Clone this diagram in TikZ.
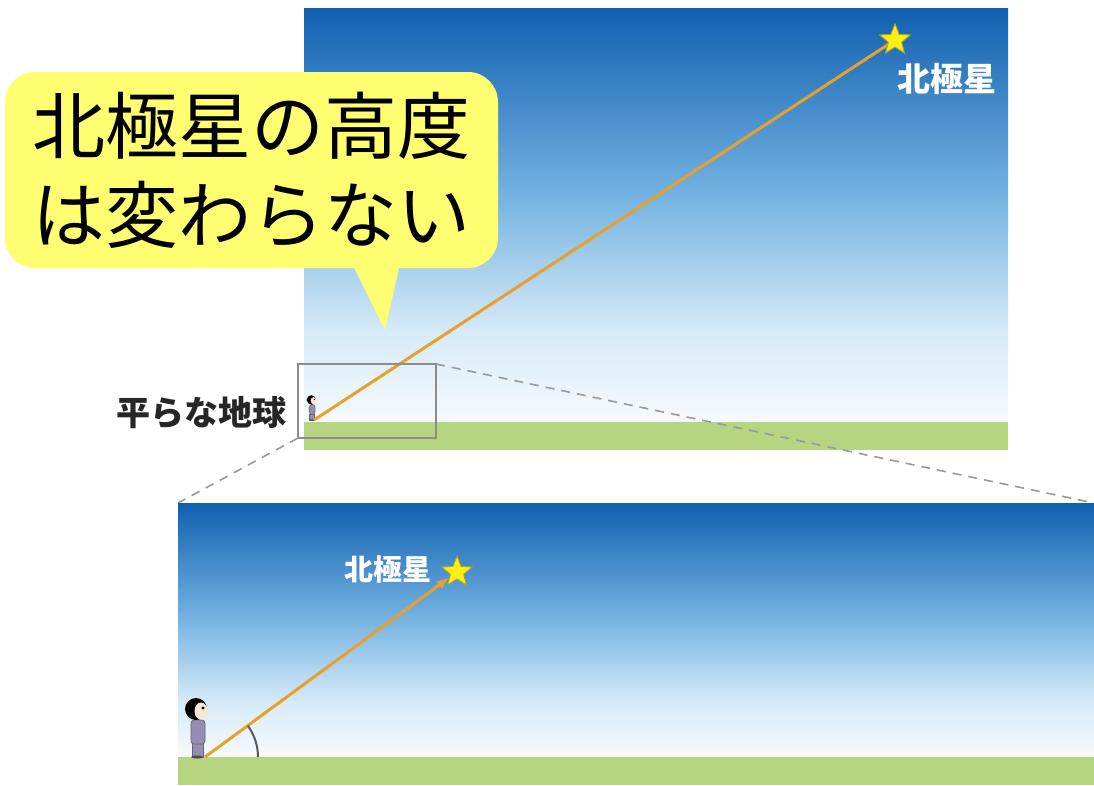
\documentclass[tikz,border=0pt]{standalone}
\usepackage{fontspec}
\newfontfamily\jp{Noto Sans CJK JP}
\usetikzlibrary{shapes.geometric,arrows.meta}

\definecolor{skytop}{RGB}{16,96,176}
\definecolor{skymid}{RGB}{118,180,226}
\definecolor{skylight}{RGB}{214,234,248}
\definecolor{skylow}{RGB}{246,250,253}
\definecolor{grass}{RGB}{182,213,128}
\definecolor{beam}{RGB}{232,160,44}
\definecolor{staryellow}{RGB}{255,238,20}
\definecolor{starrim}{RGB}{170,160,40}
\definecolor{bubble}{RGB}{255,253,112}
\definecolor{coat}{RGB}{150,140,182}
\definecolor{skin}{RGB}{247,232,210}

\pgfdeclareverticalshading{sky}{100bp}{color(0bp)=(skylow); color(25bp)=(skylow);
  color(36bp)=(skylight); color(52bp)=(skymid); color(75bp)=(skytop); color(100bp)=(skytop)}

\tikzset{
  ground/.style={fill=grass},
  sight/.style={draw=beam, line width=3pt},
  polaris/.style={star, star points=5, star point ratio=2.3, fill=staryellow,
    draw=starrim, line width=.8pt, minimum size=32pt, inner sep=0pt},
  starname/.style={text=white, font=\jp\bfseries\fontsize{33}{33}\selectfont},
  zoomline/.style={draw=black!40, line width=1.6pt, dash pattern=on 9pt off 7pt},
  pics/observer/.style={code={
    % legs and coat
    \fill[coat, draw=black!60, line width=.6pt] (-8,0) rectangle (3,-14);
    \fill[coat, draw=black!60, line width=.6pt, rounded corners=3pt] (-9,-13) rectangle (5,-37);
    % head
    \fill[black] (-4,-48) circle (11);
    \fill[skin] (1,-46) ellipse (6.5 and 8.5);
    \fill[black] (3,-49) circle (1.6);
    \fill[black!70] (-3,0) ellipse (6 and 1.5);
  }}
}

\begin{document}
\begin{tikzpicture}[x=1pt, y=-1pt]
\useasboundingbox (0,0) rectangle (1094,785);

% flat earth, wide view
\shade[shading=sky] (304,8) rectangle (1008,422);
\fill[ground] (304,422) rectangle (1008,450);
\pic[scale=.42] at (313,420) {observer};
\coordinate (feetA) at (314,420);
\node[polaris] (starA) at (895,40) {};
\draw[sight] (feetA) -- (starA.center);
\node[polaris] at (895,40) {};
\node[starname] (nameA) at (947,79) {北極星};
\node[text=black!85, font=\jp\bfseries\fontsize{34}{34}\selectfont] (flat) at (201,413) {平らな地球};

% zoom frame and its guide lines
\draw[black!45, line width=1.5pt] (298,364) rectangle (436,438);
\coordinate (boxBL) at (298,438);
\coordinate (boxTR) at (436,364);
\coordinate (panelTL) at (178,503);
\coordinate (panelTR) at (1094,503);
\draw[zoomline] (boxBL) -- (panelTL);
\draw[zoomline] (boxTR) -- (panelTR);

% close-up
\shade[shading=sky] (178,503) rectangle (1094,757);
\fill[ground] (178,757) rectangle (1094,785);
\pic at (200,757) {observer};
\coordinate (feetB) at (205,757);
\node[polaris] (starB) at (457,572) {};
\draw[sight, -{Latex[length=12pt,width=10pt]}] (feetB) -- (starB);
\draw[black!65, line width=2pt] (feetB) ++(53,0) arc[start angle=0, end angle=-36, radius=53];
\node[starname, font=\jp\bfseries\fontsize{29}{29}\selectfont] (nameB) at (388,569) {北極星};

% speech bubble
\node[fill=bubble, rounded corners=30pt, minimum width=493pt, minimum height=196pt,
  align=center, font=\jp\fontsize{73}{89}\selectfont] (bubble) at (251.5,170) {北極星の高度\\は変わらない};
\coordinate (tip) at (385,330);
\fill[bubble] (352,264) -- (tip) -- (400,264) -- cycle;
\end{tikzpicture}
\end{document}
